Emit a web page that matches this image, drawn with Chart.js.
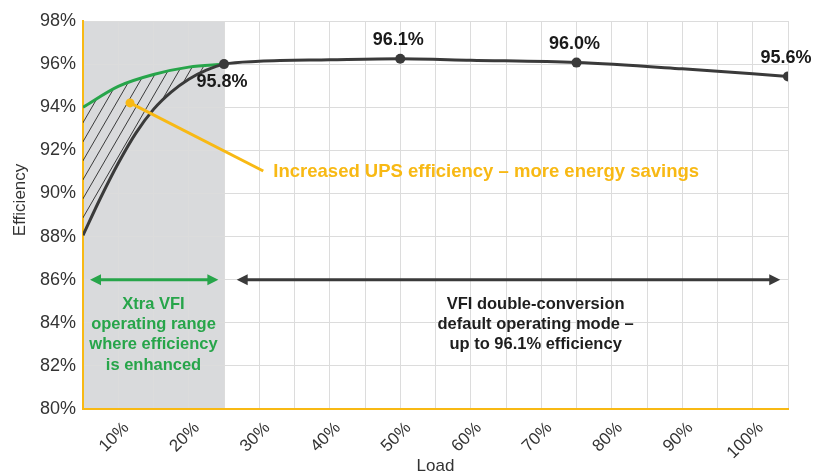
<!DOCTYPE html>
<html>
<head>
<meta charset="utf-8">
<script src="https://cdn.jsdelivr.net/npm/chart.js@4.4.1/dist/chart.umd.min.js"></script>
<style>
  html, body { margin: 0; background: #fff; }
  #wrap { width: 819px; height: 474px; }
</style>
</head>
<body>
<div id="wrap"><canvas id="chart"></canvas></div>
<script>
// efficiency curve of the UPS in VFI double-conversion mode
const curveLoad = [5, 7.5, 10, 12.5, 15, 17.5, 20, 22.5, 25, 30, 40, 50, 60, 75, 90, 105];
const curveEff = [88.06, 89.8, 91.4, 92.8, 93.9, 94.7, 95.3, 95.72, 96.0, 96.13, 96.2, 96.25, 96.18, 96.07, 95.78, 95.43];

// Xtra VFI curve, low load range only
const xtraLoad = [5, 10, 15, 20, 25];
const xtraEff = [94.0, 94.97, 95.52, 95.86, 96.0];

// labelled points
const markLoad = [25, 50, 75, 105];
const markEff = [96.0, 96.25, 96.07, 95.43];
const markText = ["95.8%", "96.1%", "96.0%", "95.6%"];

const xTicks = [10, 20, 30, 40, 50, 60, 70, 80, 90, 100];

const FONT = "'Liberation Sans', Arial, sans-serif";
const YELLOW = "#f8b914";
const GREEN = "#27a54a";
const DARK = "#3a3a3a";

const pts = (xs, ys) => xs.map((x, i) => ({ x, y: ys[i] }));

function hatch() {
  const c = document.createElement("canvas");
  c.width = 11;
  c.height = 19;
  const g = c.getContext("2d");
  g.strokeStyle = "#1e1e1e";
  g.lineWidth = 0.85;
  for (const o of [-11, 0, 11]) {
    g.beginPath();
    g.moveTo(o, 19);
    g.lineTo(o + 11, 0);
    g.stroke();
  }
  return g.createPattern(c, "repeat");
}

function arrowHead(ctx, x, y, dir, color) {
  ctx.fillStyle = color;
  ctx.beginPath();
  ctx.moveTo(x, y);
  ctx.lineTo(x - dir * 11, y - 5.5);
  ctx.lineTo(x - dir * 11, y + 5.5);
  ctx.closePath();
  ctx.fill();
}

function doubleArrow(ctx, x1, x2, y, color) {
  ctx.strokeStyle = color;
  ctx.lineWidth = 3;
  ctx.beginPath();
  ctx.moveTo(x1 + 6, y);
  ctx.lineTo(x2 - 6, y);
  ctx.stroke();
  arrowHead(ctx, x1, y, -1, color);
  arrowHead(ctx, x2, y, 1, color);
}

const shade = {
  id: "shade",
  beforeDraw(chart) {
    const { ctx, chartArea: a, scales: { x } } = chart;
    const l = x.getPixelForValue(5);
    const r = x.getPixelForValue(25);
    ctx.save();
    ctx.fillStyle = "#d9dadc";
    ctx.fillRect(l, a.top, r - l, a.bottom - a.top);
    ctx.restore();
  },
  afterDraw(chart) {
    // y axis title, sits a bit above the middle of the axis in the original
    const { ctx, scales: { y } } = chart;
    ctx.save();
    ctx.translate(20, y.getPixelForValue(89.7));
    ctx.rotate(-Math.PI / 2);
    ctx.font = "17px " + FONT;
    ctx.fillStyle = "#333";
    ctx.textAlign = "center";
    ctx.textBaseline = "middle";
    ctx.fillText("Efficiency", 0, 0);
    ctx.restore();
  },
};

const notes = {
  id: "notes",
  afterDatasetsDraw(chart) {
    const { ctx, scales: { x, y } } = chart;
    ctx.save();

    // yellow pointer
    const dx = x.getPixelForValue(11.67), dy = y.getPixelForValue(94.2);
    const ex = x.getPixelForValue(30.57), ey = y.getPixelForValue(91.04);
    ctx.strokeStyle = YELLOW;
    ctx.lineWidth = 3;
    ctx.beginPath();
    ctx.moveTo(dx, dy);
    ctx.lineTo(ex, ey);
    ctx.stroke();
    ctx.fillStyle = YELLOW;
    ctx.beginPath();
    ctx.arc(dx, dy, 4.5, 0, Math.PI * 2);
    ctx.fill();
    ctx.font = "bold 18.5px " + FONT;
    ctx.textAlign = "left";
    ctx.textBaseline = "middle";
    ctx.fillText("Increased UPS efficiency \u2013 more energy savings", x.getPixelForValue(32), ey + 1);

    // range arrows
    const ay = y.getPixelForValue(86);
    doubleArrow(ctx, x.getPixelForValue(5.99), x.getPixelForValue(24.2), ay, GREEN);
    doubleArrow(ctx, x.getPixelForValue(26.8), x.getPixelForValue(103.9), ay, DARK);

    // range texts
    ctx.textAlign = "center";
    ctx.font = "bold 16.5px " + FONT;
    ctx.fillStyle = GREEN;
    const g = ["Xtra VFI", "operating range", "where efficiency", "is enhanced"];
    const gy = y.getPixelForValue(84.86);
    g.forEach((t, i) => ctx.fillText(t, x.getPixelForValue(15), gy + i * 20.3));
    ctx.fillStyle = "#1e1e1e";
    const b = ["VFI double-conversion", "default operating mode \u2013", "up to 96.1% efficiency"];
    b.forEach((t, i) => ctx.fillText(t, x.getPixelForValue(69.2), gy + i * 20.3));

    // point labels
    const meta = chart.getDatasetMeta(0);
    ctx.font = "bold 18px " + FONT;
    ctx.fillStyle = "#1a1a1a";
    meta.data.forEach((p, i) => {
      const off = i === 0 ? 18 : -18.5;
      ctx.fillText(markText[i], p.x - 2, p.y + off);
    });
    ctx.restore();
  },
};

new Chart(document.getElementById("chart"), {
  type: "line",
  data: {
    datasets: [
      {
        data: pts(markLoad, markEff),
        showLine: false,
        pointRadius: 5,
        pointBackgroundColor: DARK,
        pointBorderWidth: 0,
      },
      {
        data: pts(curveLoad, curveEff),
        borderColor: DARK,
        borderWidth: 3,
        pointRadius: 0,
        cubicInterpolationMode: "monotone",
        fill: false,
      },
      {
        data: pts(xtraLoad, xtraEff),
        borderColor: GREEN,
        borderWidth: 3,
        pointRadius: 0,
        cubicInterpolationMode: "monotone",
        fill: { target: 1 },
        backgroundColor: hatch(),
      },
    ],
  },
  options: {
    responsive: true,
    maintainAspectRatio: false,
    animation: false,
    layout: { padding: { top: 21, right: 31, left: 0, bottom: 0 } },
    plugins: { legend: { display: false }, tooltip: { enabled: false } },
    scales: {
      x: {
        type: "linear",
        min: 5,
        max: 105,
        grid: { color: "#dcdcdc", drawTicks: false },
        border: { color: YELLOW, width: 2 },
        ticks: {
          stepSize: 5,
          autoSkip: false,
          minRotation: 45,
          maxRotation: 45,
          padding: 9,
          labelOffset: 8,
          color: "#333",
          font: { family: FONT, size: 17 },
          callback: (v) => (xTicks.includes(v) ? v + "%" : ""),
        },
        title: { display: true, text: "Load", color: "#333", font: { family: FONT, size: 17 }, padding: { top: 0, bottom: -3 } },
        afterFit: (s) => { s.height = 65; },
      },
      y: {
        min: 80,
        max: 98,
        grid: { color: "#dcdcdc", drawTicks: false },
        border: { color: YELLOW, width: 2 },
        ticks: {
          stepSize: 2,
          padding: 7,
          color: "#333",
          font: { family: FONT, size: 18 },
          callback: (v) => v + "%",
        },
        afterFit: (s) => { s.width = 83; },
      },
    },
  },
  plugins: [shade, notes],
});
</script>
</body>
</html>
